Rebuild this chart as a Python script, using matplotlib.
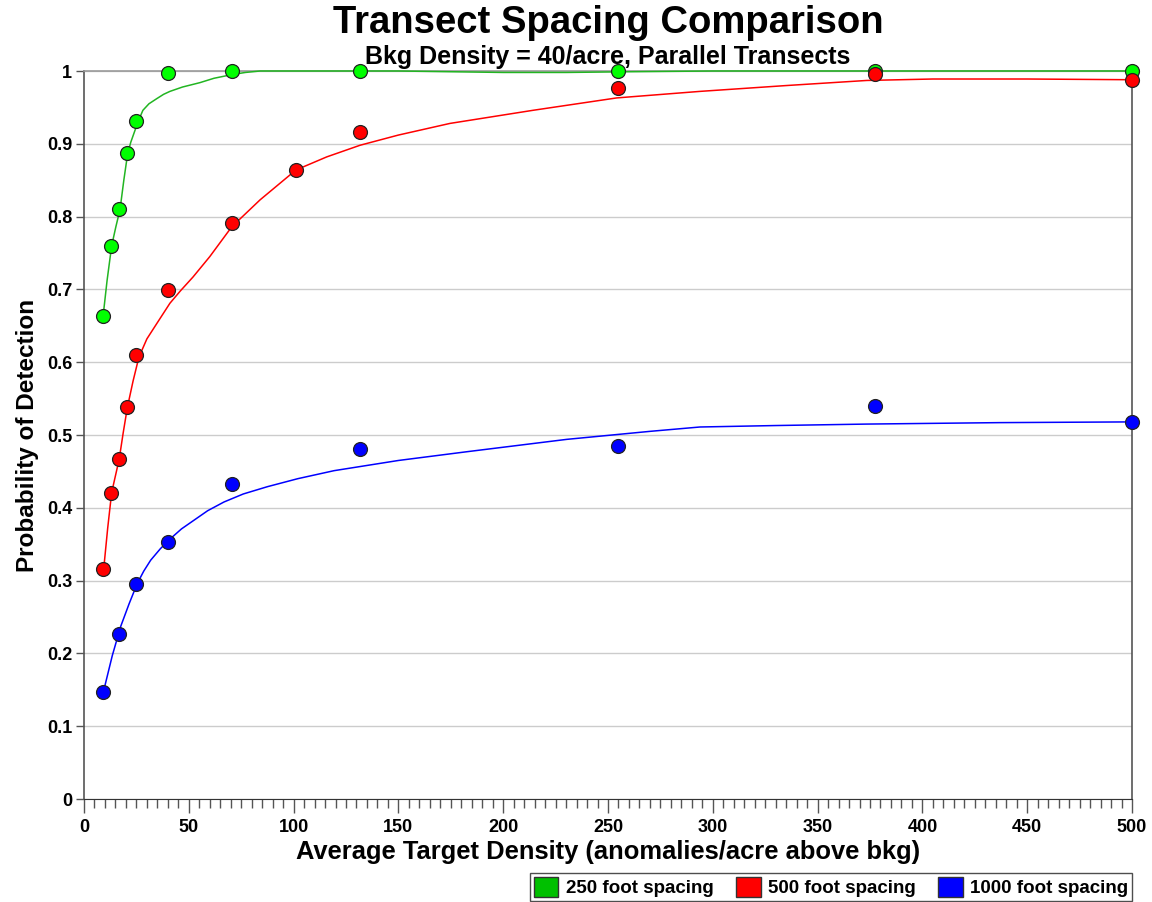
import numpy as np
import matplotlib
matplotlib.use('Agg')
import matplotlib.pyplot as plt
from matplotlib.patches import Patch
from matplotlib.ticker import MultipleLocator

plt.rcParams['font.family'] = ['Liberation Sans', 'DejaVu Sans']
plt.rcParams['font.weight'] = 'bold'

# -----------------------------
# Measured points (read off the chart)
# -----------------------------
x_250 = [9.1, 12.9, 16.7, 20.5, 24.8, 40.1, 70.6, 131.7, 254.8, 377.4, 500]
y_250 = [0.663, 0.760, 0.810, 0.887, 0.931, 0.997, 1.0, 1.0, 1.0, 1.0, 1.0]

x_500 = [9.1, 12.9, 16.7, 20.5, 24.8, 40.1, 70.6, 101.1, 131.7, 254.8, 377.4, 500]
y_500 = [0.316, 0.420, 0.467, 0.538, 0.610, 0.699, 0.791, 0.864, 0.916, 0.976, 0.996, 0.988]

x_1000 = [9.1, 16.7, 24.8, 40.1, 70.6, 131.7, 254.8, 377.4, 500]
y_1000 = [0.147, 0.227, 0.295, 0.353, 0.433, 0.481, 0.485, 0.540, 0.518]

# -----------------------------
# Fitted curves
# -----------------------------
fit_x_250 = [9.1, 11.0, 13.2, 15.2, 17.2, 19.0, 20.8, 22.3, 23.9, 26.0, 28.1,
             31.0, 34.7, 38.0, 41.0, 47.0, 55.3, 62.0, 70.5, 77.0, 84.0, 100, 150,
             200, 230, 260, 300, 400, 500]
fit_y_250 = [0.663, 0.712, 0.760, 0.786, 0.810, 0.850, 0.886, 0.902, 0.915, 0.932, 0.946,
             0.955, 0.962, 0.968, 0.972, 0.978, 0.984, 0.990, 0.995, 0.998, 1.0, 1.0, 1.0,
             0.998, 0.998, 0.999, 1.0, 1.0, 1.0]

fit_x_500 = [9.5, 11.3, 13.2, 15.0, 16.8, 18.7, 20.7, 23.4, 26.2, 30.0, 34.7, 41.0,
             46.0, 52.0, 60.0, 70.5, 84.0, 101.1, 115.8, 131.7, 150, 174.6, 214.2,
             254.1, 293.9, 335, 373.4, 405, 450, 500]
fit_y_500 = [0.319, 0.372, 0.421, 0.444, 0.467, 0.503, 0.538, 0.574, 0.607, 0.632, 0.653,
             0.681, 0.698, 0.717, 0.745, 0.786, 0.823, 0.864, 0.882, 0.898, 0.912,
             0.928, 0.946, 0.963, 0.972, 0.980, 0.987, 0.989, 0.989, 0.988]

fit_x_1000 = [9.5, 13.5, 17.5, 21.5, 25.4, 28.5, 31.8, 36.5, 41.4, 46.5, 52.5, 59.0,
              66.8, 76.0, 87.5, 102, 119.3, 150, 182.6, 230.3, 270.0, 293.9, 330,
              373.4, 437.0, 500]
fit_y_1000 = [0.150, 0.197, 0.237, 0.268, 0.296, 0.313, 0.328, 0.344, 0.358, 0.371, 0.383,
              0.396, 0.408, 0.419, 0.429, 0.440, 0.451, 0.465, 0.477, 0.494, 0.505,
              0.511, 0.513, 0.515, 0.517, 0.518]

series_labels = ['250 foot spacing', '500 foot spacing', '1000 foot spacing']
line_colors = ['#22b522', '#ff0000', '#0000ff']
marker_colors = ['#00ff00', '#ff0000', '#0000ff']
patch_colors = ['#00c000', '#ff0000', '#0000ff']

# -----------------------------
# Plot
# -----------------------------
fig = plt.figure(figsize=(11.52, 9.02), dpi=100)
ax = fig.add_axes([84 / 1152, 1 - 799 / 902, (1132 - 84) / 1152, (799 - 71) / 902])

fits = [(fit_x_250, fit_y_250), (fit_x_500, fit_y_500), (fit_x_1000, fit_y_1000)]
pts = [(x_250, y_250), (x_500, y_500), (x_1000, y_1000)]

for (fx, fy), c in zip(fits, line_colors):
    ax.plot(fx, fy, color=c, lw=1.1, zorder=3, clip_on=False)
for (px, py), c in zip(pts, marker_colors):
    ax.plot(px, py, 'o', ms=10, mfc=c, mec='#222222', mew=0.9, ls='none',
            zorder=4, clip_on=False)

ax.set_xlim(0, 500)
ax.set_ylim(0, 1)
ax.xaxis.set_major_locator(MultipleLocator(50))
ax.xaxis.set_minor_locator(MultipleLocator(5))
ax.yaxis.set_major_locator(MultipleLocator(0.1))
ax.yaxis.set_major_formatter(plt.FuncFormatter(lambda v, p: f'{v:.1f}'.rstrip('0').rstrip('.') if v not in (0, 1) else f'{int(v)}'))

ax.grid(axis='y', color='#cccccc', lw=1.0, zorder=0)
ax.tick_params(axis='x', which='major', length=10, width=1, color='#555555', labelsize=13, pad=4.5)
ax.tick_params(axis='x', which='minor', length=6.5, width=1, color='#555555')
ax.tick_params(axis='y', which='major', length=5.5, width=1, color='#555555', labelsize=13, pad=3)

for s in ['left', 'right']:
    ax.spines[s].set_color('#555555')
    ax.spines[s].set_linewidth(1.2)
ax.spines['bottom'].set_color('#333333')
ax.spines['top'].set_color('#999999')
ax.spines['top'].set_linewidth(1.2)

for lab in ax.get_xticklabels() + ax.get_yticklabels():
    lab.set_fontweight('bold')

ax.set_xlabel('Average Target Density (anomalies/acre above bkg)', fontsize=18.4, fontweight='bold', labelpad=3)
ax.set_ylabel('Probability of Detection', fontsize=17.5, fontweight='bold', labelpad=6)

fig.text(608 / 1152, 1 - 23 / 902, 'Transect Spacing Comparison', ha='center', va='center',
         fontsize=27.5, fontweight='bold')
fig.text(608 / 1152, 1 - 57 / 902, 'Bkg Density = 40/acre, Parallel Transects', ha='center', va='center',
         fontsize=18, fontweight='bold')

handles = [Patch(facecolor=c, edgecolor='#333333', label=l) for c, l in zip(patch_colors, series_labels)]
leg = fig.legend(handles=handles, loc='lower right', bbox_to_anchor=(1132 / 1152, 1 - 901 / 902),
                 ncol=3, fontsize=13.5, frameon=True, fancybox=False, edgecolor='#222222',
                 handlelength=1.3, handleheight=1.3, handletextpad=0.4, columnspacing=1.2,
                 borderpad=0.2, borderaxespad=0)
leg.get_frame().set_linewidth(1.0)
for t in leg.get_texts():
    t.set_fontweight('bold')

fig.savefig('out.png', dpi=100)
